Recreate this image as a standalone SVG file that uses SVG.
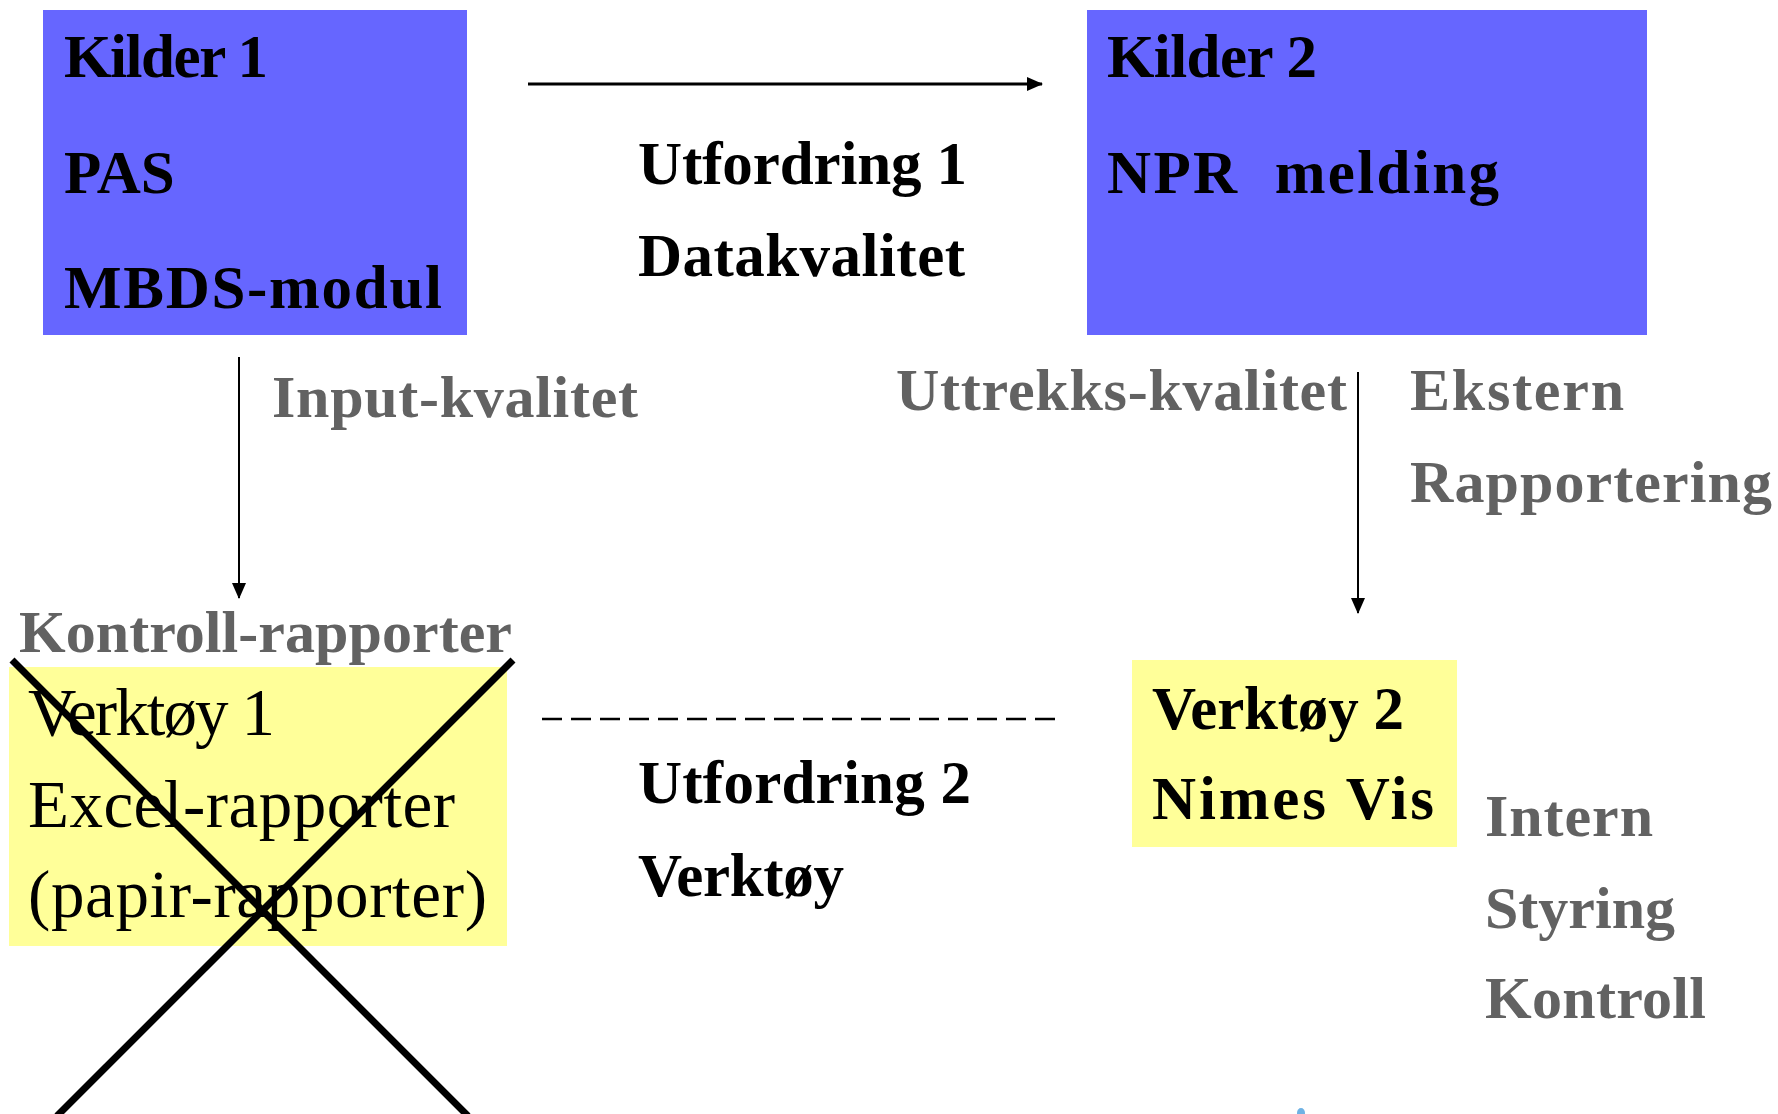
<svg xmlns="http://www.w3.org/2000/svg" width="1778" height="1114" viewBox="0 0 1778 1114">
<defs>
<style>
.t{font-family:"Liberation Serif","Times New Roman",serif;font-weight:bold;font-size:61px;fill:#000}
.g{font-family:"Liberation Serif","Times New Roman",serif;font-weight:bold;font-size:60px;fill:#626262}
.r{font-family:"Liberation Serif","Times New Roman",serif;font-weight:normal;font-size:67px;fill:#000}
.blue{fill:#6666FF}
.yel{fill:#FFFF99}
.ln{stroke:#000;fill:none}
</style>
<marker id="ah" markerUnits="userSpaceOnUse" markerWidth="16" markerHeight="14" refX="15" refY="7" orient="auto">
<path d="M0,0 L16,7 L0,14 Z" fill="#000"/>
</marker>
</defs>
<rect width="1778" height="1114" fill="#fff"/>

<g id="kilder1">
<rect class="blue" x="43" y="10" width="424" height="325"/>
<text class="t" x="64" y="77" textLength="204">Kilder 1</text>
<text class="t" x="64" y="193">PAS</text>
<text class="t" x="64" y="308" textLength="378">MBDS-modul</text>
</g>

<g id="kilder2">
<rect class="blue" x="1087" y="10" width="560" height="325"/>
<text class="t" x="1107" y="77" textLength="210">Kilder 2</text>
<text class="t" x="1107" y="193" xml:space="preserve" textLength="392">NPR  melding</text>
</g>

<g id="utfordring1">
<text class="t" x="638" y="184" textLength="329">Utfordring 1</text>
<text class="t" x="638" y="276" textLength="327">Datakvalitet</text>
</g>

<g id="labels">
<text class="g" x="272" y="417" textLength="366">Input-kvalitet</text>
<text class="g" x="896" y="410" textLength="451">Uttrekks-kvalitet</text>
<text class="g" x="1410" y="410" textLength="214">Ekstern</text>
<text class="g" x="1410" y="502" textLength="362">Rapportering</text>
<text class="g" x="19" y="652" textLength="493">Kontroll-rapporter</text>
<text class="g" x="1485" y="836" textLength="168">Intern</text>
<text class="g" x="1485" y="928" textLength="190">Styring</text>
<text class="g" x="1485" y="1018" textLength="221">Kontroll</text>
</g>

<g id="verktoy1">
<rect class="yel" x="9" y="667" width="498" height="279"/>
<text class="r" x="28" y="735" textLength="247">Verktøy 1</text>
<text class="r" x="28" y="827" textLength="427">Excel-rapporter</text>
<text class="r" x="28" y="917" textLength="459">(papir-rapporter)</text>
</g>

<g id="utfordring2">
<text class="t" x="638" y="803" textLength="333">Utfordring 2</text>
<text class="t" x="638" y="896" textLength="206">Verktøy</text>
</g>

<g id="verktoy2">
<rect class="yel" x="1132" y="660" width="325" height="187"/>
<text class="t" x="1152" y="729" textLength="252">Verktøy 2</text>
<text class="t" x="1152" y="819" textLength="282">Nimes Vis</text>
</g>

<g id="connectors">
<line class="ln" x1="528" y1="84" x2="1042" y2="84" stroke-width="3" marker-end="url(#ah)"/>
<line class="ln" x1="239" y1="357" x2="239" y2="598" stroke-width="2" marker-end="url(#ah)"/>
<line class="ln" x1="1358" y1="372" x2="1358" y2="613" stroke-width="2" marker-end="url(#ah)"/>
<line class="ln" x1="542" y1="719" x2="1057" y2="719" stroke-width="2.5" stroke-dasharray="20 9"/>
</g>

<g id="cross">
<line class="ln" x1="12" y1="660" x2="468" y2="1116" stroke-width="7"/>
<line class="ln" x1="513" y1="660" x2="57" y2="1116" stroke-width="7"/>
</g>

<ellipse cx="1301" cy="1113" rx="4" ry="5" fill="#6fb2e4"/>
</svg>
